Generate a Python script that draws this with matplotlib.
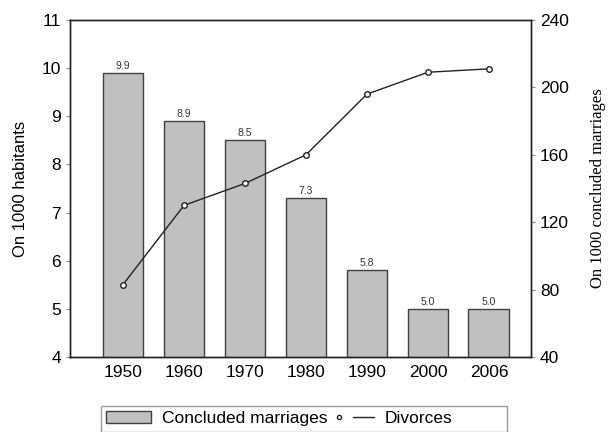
import matplotlib.pyplot as plt
from matplotlib.lines import Line2D
from matplotlib.patches import Patch, Rectangle
from matplotlib.legend_handler import HandlerTuple

years = ["1950", "1960", "1970", "1980", "1990", "2000", "2006"]
marriages = [9.9, 8.9, 8.5, 7.3, 5.8, 5.0, 5.0]
divorces = [83, 130, 143, 160, 196, 209, 211]

plt.rcParams['font.family'] = ['Liberation Sans', 'DejaVu Sans']

fig = plt.figure(figsize=(6.1, 4.32), dpi=100)
ax = fig.add_axes([70 / 610, 1 - 357 / 432, 461 / 610, 337 / 432])
x = list(range(len(years)))

bars = ax.bar(x, marriages, width=0.67, color='#c0c0c0', edgecolor='#404040',
              linewidth=1.0, zorder=2)
for xi, v in zip(x, marriages):
    ax.text(xi, v + 0.04, f"{v:.1f}", ha='center', va='bottom', fontsize=7.5,
            color='#333333')

ax.set_ylim(4, 11)
ax.set_xlim(-0.87, 6.69)
ax.set_yticks(range(4, 12))
ax.set_xticks(x)
ax.set_xticklabels(years)
ax.tick_params(axis='x', length=0, labelsize=12.5, pad=6)
ax.tick_params(axis='y', length=3, labelsize=12.5, color='#888888')
ax.set_ylabel("On 1000 habitants", fontsize=12, labelpad=10)

ax2 = ax.twinx()
ax2.plot(x, divorces, color='#222222', linewidth=1.0, marker='o', markersize=4,
         markerfacecolor='white', markeredgecolor='#222222', zorder=3)
ax2.set_ylim(40, 240)
ax2.set_yticks(range(40, 241, 40))
ax2.tick_params(axis='y', length=3, labelsize=12.5, color='#888888')
ax2.set_ylabel("On 1000 concluded marriages", fontsize=12,
               family='Liberation Serif', labelpad=15)

for a in (ax, ax2):
    for s in a.spines.values():
        s.set_linewidth(1.0)
        s.set_color('#222222')

# legend box drawn by hand, wider than its entries
fig.patches.append(Rectangle((101 / 610, 0), 406 / 610, 1 - 406 / 432,
                             transform=fig.transFigure, fill=False,
                             edgecolor='#999999', linewidth=1.0))

patch = Patch(facecolor='#c0c0c0', edgecolor='#404040')
dot = Line2D([0], [0], linestyle='none', marker='o', markersize=3,
             markerfacecolor='white', markeredgecolor='#222222')
line = Line2D([0], [0], color='#222222', linewidth=1.0)
handles = [patch, (dot, line)]
labels = ['Concluded marriages', 'Divorces']
leg = fig.legend(handles, labels, loc='upper left',
                 bbox_to_anchor=(101 / 610, 1 - 406 / 432),
                 handler_map={tuple: HandlerTuple(ndivide=None, pad=0.2)},
                 ncol=2, frameon=False, fontsize=12.5,
                 handlelength=2.6, handletextpad=0.6, borderaxespad=0,
                 borderpad=0.3, columnspacing=0.1)

fig.savefig("out.png", dpi=100)
